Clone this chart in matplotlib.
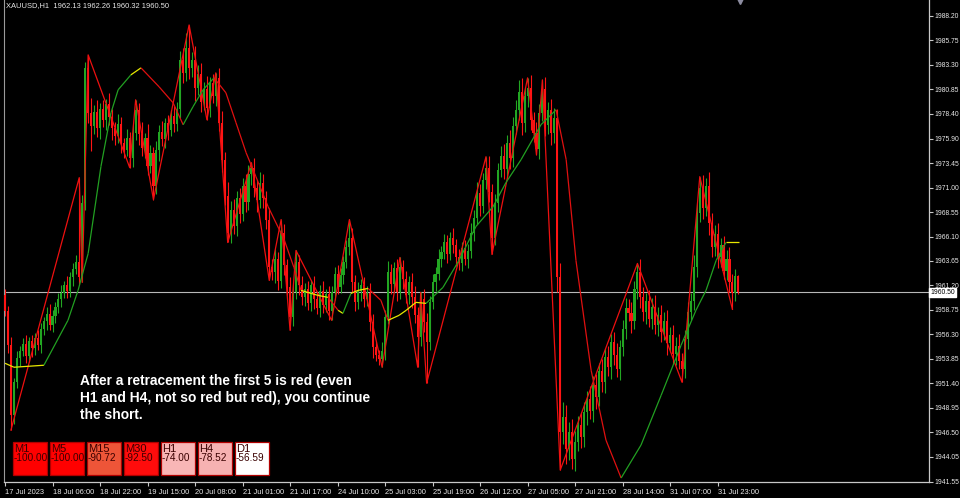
import matplotlib
matplotlib.use("Agg")
import matplotlib.pyplot as plt
from matplotlib.collections import LineCollection
from matplotlib.patches import Rectangle
from matplotlib.transforms import blended_transform_factory
import numpy as np

# XAUUSD H1 closes (open of each bar = previous close)
first_open = 1960.2
closes = [
    1958.6, 1955.2, 1948.2, 1951.5, 1953.9, 1954.6, 1955.3, 1954.1, 1955.6, 1954.9,
    1955.9, 1955.2, 1956.8, 1957.6, 1958.3, 1957.2, 1958.1, 1959.0, 1959.8, 1960.4,
    1961.2, 1960.6, 1962.0, 1962.8, 1963.5, 1962.0, 1969.5, 1983.0, 1978.5, 1977.2,
    1978.6, 1977.0, 1978.9, 1977.8, 1979.4, 1978.1, 1977.0, 1976.2, 1977.4, 1975.5,
    1974.8, 1976.0, 1974.0, 1976.5, 1978.8, 1976.4, 1975.0, 1976.0, 1973.2, 1974.5,
    1971.2, 1974.8, 1976.6, 1975.9, 1977.5, 1976.8, 1978.2, 1977.4, 1978.9, 1983.8,
    1982.5, 1985.0, 1983.0, 1983.8, 1981.0, 1982.4, 1979.6, 1980.9, 1979.0, 1981.5,
    1980.2, 1982.0, 1977.5, 1973.8, 1970.2, 1966.5, 1968.8, 1967.2, 1970.0, 1968.4,
    1971.2, 1969.6, 1972.4, 1973.0, 1971.0, 1969.8, 1971.5, 1970.0, 1967.8, 1963.0,
    1962.5, 1963.8, 1961.6, 1966.5, 1963.2, 1961.0, 1958.0, 1960.5, 1963.5, 1961.2,
    1960.0, 1960.8, 1959.4, 1961.2, 1959.8, 1958.9, 1960.6, 1959.2, 1960.3, 1958.6,
    1960.5, 1962.3, 1961.0, 1962.2, 1963.5, 1965.0, 1966.0, 1961.5, 1959.5, 1960.6,
    1961.2, 1959.8, 1960.4, 1957.5, 1955.0, 1954.2, 1953.8, 1954.6, 1958.0, 1962.5,
    1961.3, 1962.9, 1960.5, 1963.0, 1961.8, 1960.2, 1961.5, 1960.0, 1958.2, 1956.0,
    1959.8, 1957.5, 1955.5, 1959.5, 1961.5, 1962.3, 1963.8, 1964.5, 1965.5, 1964.3,
    1966.0, 1965.2, 1964.0, 1963.4, 1964.9, 1963.8, 1964.6, 1966.5, 1968.0, 1970.5,
    1969.2, 1971.8, 1973.0, 1970.6, 1966.0, 1969.5, 1972.8, 1974.2, 1972.9, 1975.5,
    1974.0, 1977.2, 1978.8, 1980.6, 1977.5, 1980.2, 1981.0, 1977.8, 1976.5, 1974.9,
    1978.5, 1980.9, 1977.3, 1978.8, 1976.5, 1978.0, 1962.0, 1946.5, 1948.0, 1944.8,
    1946.5, 1943.8, 1945.5, 1947.2, 1946.0, 1948.5, 1949.8, 1948.6, 1951.2, 1950.0,
    1952.6, 1951.5, 1954.0, 1953.0, 1955.5, 1954.2, 1952.8, 1955.0, 1956.8, 1958.9,
    1958.4, 1957.6, 1960.8, 1962.5, 1960.0, 1958.5, 1959.6, 1957.8, 1959.0, 1957.2,
    1958.2, 1956.5, 1957.6, 1955.4, 1956.2, 1954.3, 1955.1, 1953.6, 1952.8, 1955.8,
    1958.5, 1959.6, 1963.0, 1968.5, 1971.0, 1969.0, 1971.2, 1967.5, 1965.0, 1966.4,
    1964.0, 1965.2, 1962.6, 1963.8, 1961.5, 1960.4, 1962.13, 1960.50,
]
upper_wick = [
    0.6, 0.5, 0.8, 0.4, 0.7, 0.5, 0.6, 0.9, 0.4, 0.6,
    0.5, 0.8, 0.6, 0.4, 0.7, 1.0, 0.6, 0.5, 0.6, 0.8,
    0.4, 0.9, 0.5, 0.6, 0.7, 8.5, 0.8, 0.6, 1.3, 1.5,
    0.7, 1.2, 0.6, 0.9, 0.5, 1.1, 0.8, 0.6, 1.0, 0.7,
    0.5, 0.9, 0.6, 0.8, 1.0, 0.7, 1.2, 0.5, 1.4, 0.8,
    0.6, 0.9, 0.7, 1.1, 0.5, 0.8, 0.6, 1.0, 0.7, 0.9,
    1.2, 1.5, 2.3, 0.8, 1.4, 0.9, 1.1, 0.7, 1.3, 0.6,
    0.9, 0.5, 1.0, 1.2, 0.8, 1.4, 0.9, 1.1, 0.7, 1.0,
    0.8, 1.2, 0.9, 0.5, 1.0, 0.8, 1.1, 0.9, 0.7, 1.2,
    0.8, 1.0, 0.7, 1.3, 0.9, 0.6, 1.0, 0.8, 1.2, 0.7,
    0.9, 0.6, 0.8, 0.5, 0.9, 0.7, 0.6, 1.0, 0.5, 0.8,
    0.6, 0.7, 0.9, 0.7, 0.6, 0.8, 1.8, 1.0, 0.7, 0.9,
    0.6, 0.8, 0.7, 1.0, 0.8, 0.6, 0.5, 0.9, 0.7, 1.1,
    0.8, 0.6, 0.9, 1.0, 0.7, 0.8, 0.6, 0.9, 1.1, 0.8,
    0.7, 1.0, 0.9, 0.6, 0.8, 0.7, 1.0, 0.6, 0.9, 0.8,
    0.6, 1.0, 0.7, 0.8, 0.6, 0.9, 0.7, 1.0, 0.8, 1.1,
    0.9, 0.7, 1.1, 1.2, 0.8, 0.9, 0.7, 1.0, 1.2, 0.8,
    1.3, 0.9, 1.0, 1.2, 1.4, 0.9, 1.0, 1.3, 0.8, 1.1,
    0.9, 0.9, 1.2, 0.8, 1.1, 1.0, 0.9, 1.4, 1.5, 1.2,
    1.0, 1.3, 1.1, 0.9, 1.2, 1.0, 0.8, 1.3, 0.9, 1.1,
    0.8, 1.2, 0.9, 1.1, 0.8, 1.0, 1.2, 0.7, 0.9, 1.0,
    0.9, 1.1, 0.8, 0.9, 1.3, 1.0, 0.8, 1.1, 0.9, 1.2,
    0.8, 1.0, 0.9, 1.1, 0.8, 1.0, 0.9, 1.2, 0.8, 0.9,
    1.0, 0.8, 1.2, 1.0, 1.1, 1.3, 0.8, 1.4, 1.0, 0.9,
    1.1, 0.8, 1.0, 0.9, 1.2, 0.8, 0.7, 0.13,
]
lower_wick = [
    0.5, 0.8, 1.5, 0.9, 0.6, 0.8, 0.5, 0.7, 0.6, 0.9,
    0.7, 0.5, 0.8, 0.6, 0.9, 0.5, 0.7, 0.7, 0.6, 0.8,
    0.5, 0.7, 0.6, 0.9, 0.5, 0.8, 0.5, 0.7, 1.0, 2.5,
    0.8, 0.9, 1.1, 0.7, 1.0, 0.8, 1.2, 0.9, 0.7, 1.0,
    0.8, 0.6, 1.0, 0.9, 0.7, 1.1, 0.8, 1.0, 0.9, 0.7,
    1.4, 0.8, 1.1, 0.7, 0.9, 1.0, 0.6, 0.8, 0.7, 0.9,
    1.0, 0.8, 1.1, 0.9, 1.3, 0.7, 1.0, 0.8, 1.2, 0.9,
    0.7, 1.0, 0.8, 1.2, 0.9, 1.0, 1.1, 0.8, 1.0, 0.9,
    0.7, 1.0, 0.8, 1.1, 0.9, 1.2, 0.8, 1.0, 0.9, 1.3,
    0.8, 1.1, 0.9, 0.7, 1.0, 0.8, 1.3, 0.9, 0.7, 1.0,
    0.8, 0.9, 0.7, 0.8, 1.0, 0.6, 0.9, 0.8, 0.7, 0.9,
    0.9, 0.8, 0.7, 0.6, 0.9, 0.6, 0.8, 1.0, 0.9, 0.7,
    1.0, 0.8, 0.7, 0.9, 1.1, 0.6, 0.6, 0.8, 0.9, 0.7,
    1.0, 0.8, 0.9, 0.7, 1.0, 0.8, 0.9, 1.1, 0.8, 3.0,
    0.9, 1.0, 4.1, 0.8, 0.7, 0.9, 0.6, 0.8, 0.7, 0.9,
    0.6, 0.8, 0.9, 0.7, 0.8, 0.6, 0.9, 0.7, 0.8, 0.6,
    1.0, 0.7, 0.9, 1.0, 1.7, 0.8, 0.9, 0.7, 1.0, 0.8,
    1.1, 0.9, 0.8, 1.0, 1.2, 0.9, 1.1, 1.0, 0.9, 0.6,
    1.0, 0.8, 1.1, 0.9, 1.2, 1.0, 1.5, 3.8, 1.2, 1.5,
    1.1, 1.0, 1.2, 0.9, 1.1, 1.0, 1.3, 0.8, 1.1, 1.2,
    0.9, 1.0, 1.1, 0.9, 1.2, 1.0, 0.8, 1.1, 0.9, 1.0,
    0.8, 1.2, 0.8, 1.0, 1.1, 0.9, 1.2, 0.8, 1.0, 0.9,
    1.1, 1.0, 0.8, 1.2, 0.9, 1.0, 1.1, 0.8, 1.3, 0.9,
    1.0, 0.8, 0.9, 1.0, 0.9, 1.1, 0.8, 1.2, 1.0, 0.9,
    1.1, 1.0, 0.8, 0.9, 1.0, 1.6, 0.8, 0.18,
]

# zigzag turning bars, alternating low / high, starting with a low
zz_bars = [2, 25, 26, 28, 42, 44, 50, 62, 68, 71, 75, 83, 89, 93, 96, 98, 110,
           116, 127, 133, 139, 140, 142, 162, 164, 176, 179, 181, 187, 213, 228,
           234, 245]

# smoothed trend line (bar position, price)
ma_bars = [0, 3.0, 13.1, 21.2, 24.6, 28.0, 32.3, 35.7, 38.1, 42.4, 45.8, 51.9,
           56.6, 60.0, 63.3, 66.7, 70.4, 74.4, 77.8, 81.2, 84.5, 88.6, 94.0,
           97.3, 99.7, 103.1, 105.4, 108.8, 112.2, 113.8, 116.5, 118.9, 122.3,
           126.6, 129.0, 132.7, 135.1, 138.4, 141.8, 147.5, 152.9, 158.6, 164.4,
           168.7, 173.8, 180.5, 185.6, 189.0, 192.3, 197.4, 202.4, 207.5, 214.2,
           221.0, 227.7, 232.7, 236.1, 239.5, 242.8, 247.2]
ma_vals = [1953.4, 1953.0, 1953.2, 1957.7, 1960.7, 1964.4, 1973.1, 1978.5,
           1980.8, 1982.3, 1983.0, 1981.1, 1979.5, 1977.3, 1979.1, 1980.8,
           1982.0, 1980.5, 1977.5, 1974.5, 1972.1, 1969.1, 1965.8, 1963.0,
           1960.7, 1960.4, 1960.2, 1960.0, 1958.7, 1958.4, 1960.4, 1960.7,
           1960.9, 1959.7, 1957.7, 1958.2, 1958.7, 1959.5, 1959.4, 1961.0,
           1963.7, 1967.1, 1969.1, 1971.5, 1973.8, 1977.3, 1978.8, 1973.8,
           1963.7, 1952.7, 1945.7, 1941.9, 1945.2, 1950.2, 1955.2, 1958.7,
           1960.7, 1963.7, 1965.5, 1965.5]

price_ticks = [1988.20, 1985.75, 1983.30, 1980.85, 1978.40, 1975.90, 1973.45,
               1971.00, 1968.55, 1966.10, 1963.65, 1961.20, 1958.75, 1956.30,
               1953.85, 1951.40, 1948.95, 1946.50, 1944.05, 1941.55]
time_ticks = [0, 16, 32, 48, 64, 80, 96, 112, 128, 144, 160, 176, 192, 208, 224, 240]
time_labels = ['17 Jul 2023', '18 Jul 06:00', '18 Jul 22:00', '19 Jul 15:00',
               '20 Jul 08:00', '21 Jul 01:00', '21 Jul 17:00', '24 Jul 10:00',
               '25 Jul 03:00', '25 Jul 19:00', '26 Jul 12:00', '27 Jul 05:00',
               '27 Jul 21:00', '28 Jul 14:00', '31 Jul 07:00', '31 Jul 23:00']

tf_labels = ['M1', 'M5', 'M15', 'M30', 'H1', 'H4', 'D1']
tf_values = [-100.00, -100.00, -90.72, -92.50, -74.00, -78.52, -56.59]
tf_colors = ['#ff0000', '#ff0000', '#ee5538', '#ff0c0c', '#f8b6b6', '#f6b2b2', '#ffffff']

note = ("After a retracement the first 5 is red (even\n"
        "H1 and H4, not so red but red), you continue\n"
        "the short.")

# ---------------------------------------------------------------
c = np.array(closes)
o = np.concatenate([[first_open], c[:-1]])
h = np.maximum(o, c) + np.array(upper_wick)
l = np.minimum(o, c) - np.array(lower_wick)
x = np.arange(len(c))

UP = '#22a622'
DN = '#ff1414'
W, H = 960, 498
SMALL = 5.4
PRICE = 4.9
plt.rcParams['font.family'] = ['Liberation Sans', 'DejaVu Sans']

fig = plt.figure(figsize=(W / 100, H / 100), dpi=100, facecolor='black')
ax = fig.add_axes([4 / W, 16 / H, 925 / W, 482 / H], facecolor='black')

col = np.where(c >= o, UP, DN)
ax.vlines(x, l, h, colors=col, linewidth=0.8, zorder=2)
ax.bar(x, np.maximum(np.abs(c - o), 0.08), bottom=np.minimum(o, c), width=0.7,
       color=col, linewidth=0, zorder=3)

# zigzag
zz_y = [l[b] if k % 2 == 0 else h[b] for k, b in enumerate(zz_bars)]
ax.plot(zz_bars, zz_y, color='#ee1010', linewidth=0.9, zorder=4)

# trend line coloured by direction
pts = np.column_stack([ma_bars, ma_vals])
segs = np.stack([pts[:-1], pts[1:]], axis=1)
slope = np.diff(ma_vals) / np.diff(ma_bars)
seg_col = ['#e8e800' if abs(s) < 0.25 else ('#22a022' if s > 0 else '#e01010') for s in slope]
ax.add_collection(LineCollection(segs, colors=seg_col, linewidths=0.9, zorder=5))

# bid line
ax.axhline(c[-1], color='#b8b8b8', linewidth=0.8, zorder=1)

ax.set_xlim(-0.34, 311.2)
ax.set_ylim(1941.5, 1989.8)

ax.yaxis.tick_right()
ax.set_yticks(price_ticks)
ax.set_yticklabels(['%.2f' % p for p in price_ticks])
ax.set_xticks(time_ticks)
ax.set_xticklabels(time_labels)
for t in ax.get_xticklabels():
    t.set_horizontalalignment('left')
ax.tick_params(axis='y', colors='#c8c8c8', labelcolor='#e8e8e8', labelsize=PRICE,
               length=3, width=0.8, pad=0.8)
ax.tick_params(axis='x', colors='#c8c8c8', labelcolor='#e8e8e8', labelsize=SMALL,
               length=3, width=0.8, pad=2)
for s in ['right', 'bottom']:
    ax.spines[s].set_color('#c8c8c8')
    ax.spines[s].set_linewidth(0.9)
ax.spines['left'].set_color('#9a9a9a')
ax.spines['top'].set_visible(False)

# current price tag
tr = blended_transform_factory(ax.transAxes, ax.transData)
ax.text(1.0015, c[-1], '%.2f' % c[-1], transform=tr, ha='left', va='center',
        fontsize=PRICE, color='black', zorder=10, clip_on=False,
        bbox=dict(boxstyle='square,pad=0.2', facecolor='white', edgecolor='white'))

# shift marker at the top
ax.plot([247.5], [1989.8], marker='v', markersize=6, color='#8c8ca0', clip_on=False)

# header
fig.text(6 / W, 1 - 5.5 / H, 'XAUUSD,H1  %.2f %.2f %.2f %.2f' % (o[-1], h[-1], l[-1], c[-1]),
         color='#e8e8e8', fontsize=SMALL, va='center', ha='left')

# note
fig.text(80 / W, 1 - 374 / H, note, color='white', fontsize=9.9, fontweight='bold',
         va='top', ha='left', linespacing=1.28)

# timeframe strength boxes
for k, (lab, val, fc) in enumerate(zip(tf_labels, tf_values, tf_colors)):
    bx = 13 + 37 * k
    fig.add_artist(Rectangle((bx / W, 1 - 475 / H), 33.5 / W, 33 / H,
                             transform=fig.transFigure, facecolor=fc,
                             edgecolor='#b00000', linewidth=0.9))
    fig.text((bx + 1) / W, 1 - 449 / H, lab, fontsize=8, color='#3a0000',
             va='center', ha='left')
    fig.text((bx + 0.5) / W, 1 - 457.5 / H, '%.2f' % val, fontsize=7.2, color='#3a0000',
             va='center', ha='left')

fig.savefig('out.png', dpi=100, facecolor='black')
